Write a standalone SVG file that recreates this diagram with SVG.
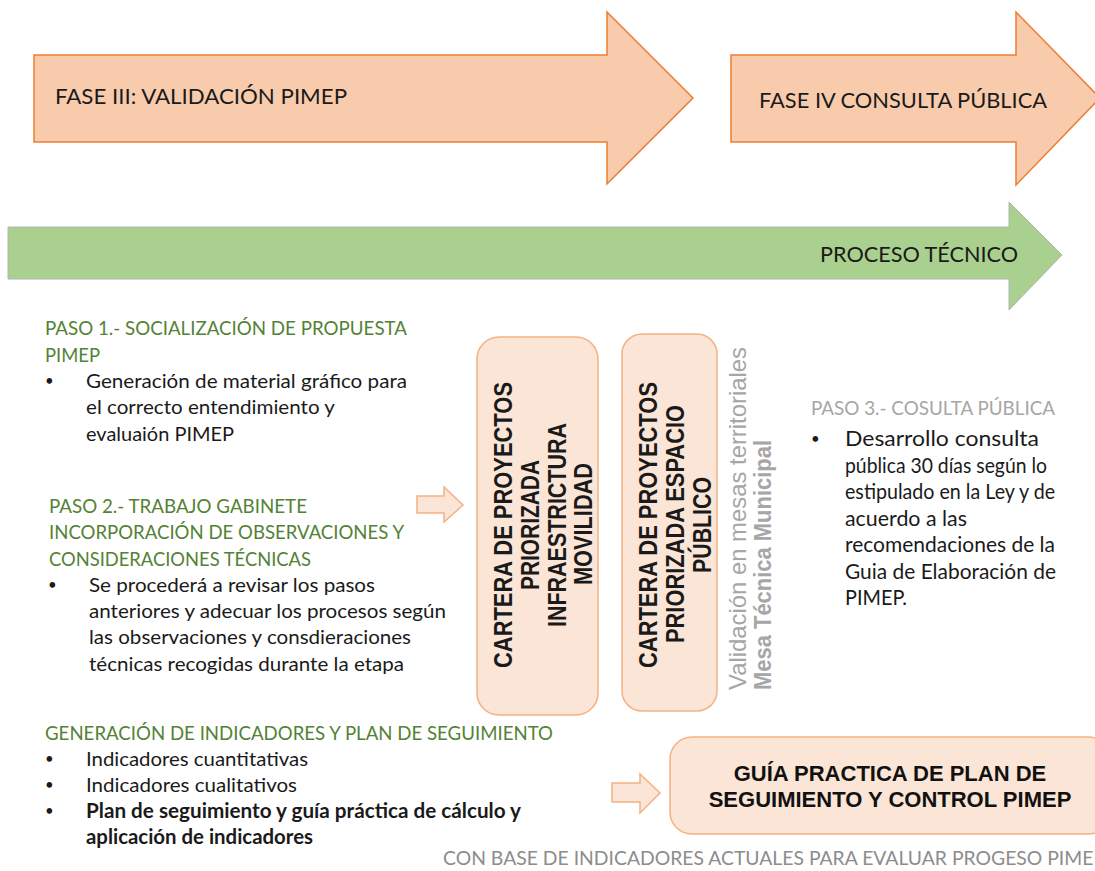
<svg xmlns="http://www.w3.org/2000/svg" width="1095" height="871" viewBox="0 0 1095 871">
<style>
.phase{fill:#f8cbad;stroke:#ed7d31;stroke-width:1.5}
.green{fill:#a9d08e;stroke:#b4b4b4;stroke-width:1}
.box{fill:#fbe5d6;stroke:#f4b183;stroke-width:1.5}
.blk{fill:#fbe5d6;stroke:#f4b183;stroke-width:1.5}
.t{font-family:Lato,"Open Sans","Liberation Sans",sans-serif;fill:#1a1a1a}
.big{font-size:22px}
.hd{font-size:20px;fill:#548235}
.bd{font-size:20px}
.bl{font-size:15px}
.p3{font-size:21.5px}
.v{font-family:"Liberation Sans",Arial,sans-serif;font-weight:bold;font-size:25px;fill:#1a1a1a;text-anchor:middle}
.vg{font-family:"Liberation Sans",Arial,sans-serif;font-size:24px;fill:#a6a6a6}
.gb{font-family:"Liberation Sans",Arial,sans-serif;font-weight:bold;font-size:22px;fill:#111;text-anchor:middle}
</style>
<rect width="1095" height="871" fill="#ffffff"/>

<g id="fase3">
<path class="phase" d="M34,55 H607 V12 L693,98 L607,184 V142 H34 Z"/>
<text class="t big" x="55" y="104" textLength="292" lengthAdjust="spacingAndGlyphs">FASE III: VALIDACIÓN PIMEP</text>
</g>

<g id="fase4">
<path class="phase" d="M731,55 H1016 V12 L1100,98 L1016,185 V142 H731 Z"/>
<text class="t big" x="759" y="108" textLength="288" lengthAdjust="spacingAndGlyphs">FASE IV CONSULTA PÚBLICA</text>
</g>

<g id="proceso">
<path class="green" d="M8,227 H1009 V202 L1062,255 L1009,310 V279 H8 Z"/>
<text class="t big" x="820" y="262" textLength="198" lengthAdjust="spacingAndGlyphs">PROCESO TÉCNICO</text>
</g>

<g id="paso1">
<text class="t hd" x="45" y="335" textLength="362" lengthAdjust="spacingAndGlyphs">PASO 1.- SOCIALIZACIÓN DE PROPUESTA</text>
<text class="t hd" x="45" y="362" textLength="55" lengthAdjust="spacingAndGlyphs">PIMEP</text>
<text class="t bl" x="45" y="386">•</text>
<text class="t bd" x="86" y="388" textLength="321" lengthAdjust="spacingAndGlyphs">Generación de material gráfico para</text>
<text class="t bd" x="86" y="414" textLength="249" lengthAdjust="spacingAndGlyphs">el correcto entendimiento y</text>
<text class="t bd" x="86" y="441" textLength="148" lengthAdjust="spacingAndGlyphs">evaluaión PIMEP</text>
</g>

<g id="paso2">
<text class="t hd" x="49" y="513" textLength="258" lengthAdjust="spacingAndGlyphs">PASO 2.- TRABAJO GABINETE</text>
<text class="t hd" x="49" y="539" textLength="355" lengthAdjust="spacingAndGlyphs">INCORPORACIÓN DE OBSERVACIONES Y</text>
<text class="t hd" x="49" y="566" textLength="262" lengthAdjust="spacingAndGlyphs">CONSIDERACIONES TÉCNICAS</text>
<text class="t bl" x="48" y="590">•</text>
<text class="t bd" x="89" y="592" textLength="286" lengthAdjust="spacingAndGlyphs">Se procederá a revisar los pasos</text>
<text class="t bd" x="89" y="618" textLength="357" lengthAdjust="spacingAndGlyphs">anteriores y adecuar los procesos según</text>
<text class="t bd" x="89" y="644" textLength="322" lengthAdjust="spacingAndGlyphs">las observaciones y consdieraciones</text>
<text class="t bd" x="89" y="671" textLength="315" lengthAdjust="spacingAndGlyphs">técnicas recogidas durante la etapa</text>
</g>

<g id="cartera-movilidad">
<rect class="box" x="477" y="337" width="121" height="378" rx="22"/>
<text class="v" transform="translate(512,525) rotate(-90)" textLength="286" lengthAdjust="spacingAndGlyphs">CARTERA  DE PROYECTOS</text>
<text class="v" transform="translate(539,525) rotate(-90)" textLength="130" lengthAdjust="spacingAndGlyphs">PRIORIZADA</text>
<text class="v" transform="translate(566,525) rotate(-90)" textLength="204" lengthAdjust="spacingAndGlyphs">INFRAESTRICTURA</text>
<text class="v" transform="translate(592,524) rotate(-90)" textLength="122" lengthAdjust="spacingAndGlyphs">MOVILIDAD</text>
</g>

<g id="cartera-espacio">
<rect class="box" x="622" y="334" width="95" height="377" rx="20"/>
<text class="v" transform="translate(657,525) rotate(-90)" textLength="286" lengthAdjust="spacingAndGlyphs">CARTERA  DE PROYECTOS</text>
<text class="v" transform="translate(684,524) rotate(-90)" textLength="238" lengthAdjust="spacingAndGlyphs">PRIORIZADA ESPACIO</text>
<text class="v" transform="translate(711,525) rotate(-90)" textLength="96" lengthAdjust="spacingAndGlyphs">PÚBLICO</text>
</g>

<g id="validacion">
<text class="vg" transform="translate(746,690) rotate(-90)" textLength="343" lengthAdjust="spacingAndGlyphs">Validación en mesas territoriales</text>
<text class="vg" font-weight="bold" transform="translate(771,690) rotate(-90)" textLength="250" lengthAdjust="spacingAndGlyphs">Mesa Técnica Municipal</text>
</g>

<g id="paso3">
<text class="t hd" x="811" y="415" textLength="244" lengthAdjust="spacingAndGlyphs" style="fill:#a6a6a6">PASO 3.- COSULTA PÚBLICA</text>
<text class="t bl" x="811" y="444">•</text>
<text class="t p3" x="845" y="446" textLength="194" lengthAdjust="spacingAndGlyphs">Desarrollo consulta</text>
<text class="t p3" x="845" y="473" textLength="202" lengthAdjust="spacingAndGlyphs">pública 30 días según lo</text>
<text class="t p3" x="845" y="499" textLength="210" lengthAdjust="spacingAndGlyphs">estipulado en la Ley y de</text>
<text class="t p3" x="845" y="526" textLength="122" lengthAdjust="spacingAndGlyphs">acuerdo a las</text>
<text class="t p3" x="845" y="552" textLength="210" lengthAdjust="spacingAndGlyphs">recomendaciones de la</text>
<text class="t p3" x="845" y="579" textLength="211" lengthAdjust="spacingAndGlyphs">Guia de Elaboración de</text>
<text class="t p3" x="845" y="605" textLength="62" lengthAdjust="spacingAndGlyphs">PIMEP.</text>
</g>

<g id="indicadores">
<text class="t hd" x="45" y="740" textLength="508" lengthAdjust="spacingAndGlyphs">GENERACIÓN DE INDICADORES Y PLAN DE SEGUIMIENTO</text>
<text class="t bl" x="45" y="764">•</text>
<text class="t bd" x="86" y="766" textLength="222" lengthAdjust="spacingAndGlyphs">Indicadores cuantitativas</text>
<text class="t bl" x="45" y="790">•</text>
<text class="t bd" x="86" y="792" textLength="211" lengthAdjust="spacingAndGlyphs">Indicadores cualitativos</text>
<text class="t bl" x="45" y="816">•</text>
<text class="t bd" x="86" y="818" font-weight="bold" textLength="435" lengthAdjust="spacingAndGlyphs">Plan de seguimiento y guía práctica de cálculo y</text>
<text class="t bd" x="86" y="844" font-weight="bold" textLength="227" lengthAdjust="spacingAndGlyphs">aplicación de indicadores</text>
</g>

<g id="guia">
<rect class="box" x="670" y="737" width="440" height="97" rx="22"/>
<text class="gb" x="890" y="781">GUÍA PRACTICA DE PLAN DE</text>
<text class="gb" x="890" y="807">SEGUIMIENTO Y CONTROL PIMEP</text>
</g>

<g id="nota">
<text class="t" x="443" y="865" font-size="19" style="fill:#8c8c8c" textLength="662" lengthAdjust="spacingAndGlyphs">CON BASE DE INDICADORES ACTUALES PARA EVALUAR PROGESO PIMEP</text>
</g>

<g id="connectors">
<path class="blk" d="M417,496 H444 V487 L463,505 L444,522 V513 H417 Z"/>
<path class="blk" d="M612,783 H640 V774 L660,793 L640,813 V802 H612 Z"/>
</g>
</svg>
